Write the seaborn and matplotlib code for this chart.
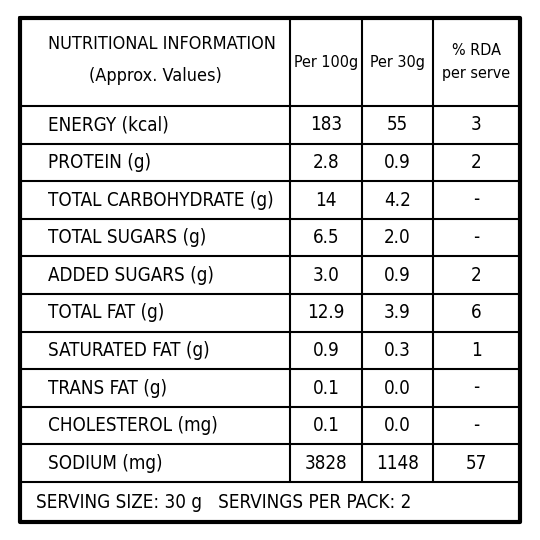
import matplotlib
matplotlib.use("Agg")
import matplotlib.pyplot as plt
import seaborn as sns

sns.set_theme(style="white")
plt.rcParams['font.family'] = ['DejaVu Sans']

nutrients = ["ENERGY (kcal)", "PROTEIN (g)", "TOTAL CARBOHYDRATE (g)", "TOTAL SUGARS (g)",
             "ADDED SUGARS (g)", "TOTAL FAT (g)", "SATURATED FAT (g)", "TRANS FAT (g)",
             "CHOLESTEROL (mg)", "SODIUM (mg)"]
per_100g = ["183", "2.8", "14", "6.5", "3.0", "12.9", "0.9", "0.1", "0.1", "3828"]
per_30g = ["55", "0.9", "4.2", "2.0", "0.9", "3.9", "0.3", "0.0", "0.0", "1148"]
rda = ["3", "2", "-", "-", "2", "6", "1", "-", "-", "57"]
headers = ["Per 100g", "Per 30g", "% RDA\nper serve"]
footer = "SERVING SIZE: 30 g   SERVINGS PER PACK: 2"

fig = plt.figure(figsize=(5.4, 5.4), dpi=100)
ax = fig.add_axes([0, 0, 1, 1])
ax.set_xlim(0, 540)
ax.set_ylim(540, 0)
ax.axis("off")

left, right, top, bottom = 20, 520, 18, 522
cols = [290, 362, 433]
head_bottom = 106
row_h = 37.6
table_bottom = head_bottom + row_h * len(nutrients)

ax.plot([left, right, right, left, left], [top, top, bottom, bottom, top], color="black", lw=3)
for i in range(len(nutrients) + 1):
    y = head_bottom + i * row_h
    ax.plot([left, right], [y, y], color="black", lw=1.5)
for x in cols:
    ax.plot([x, x], [top, table_bottom], color="black", lw=1.5)

txt = dict(color="black", fontstretch="condensed", fontweight="medium", va="center")
ax.text(48, 44, "NUTRITIONAL INFORMATION", ha="left", fontsize=13, **txt)
ax.text(155, 76, "(Approx. Values)", ha="center", fontsize=13, **txt)
centers = [(cols[0] + cols[1]) / 2, (cols[1] + cols[2]) / 2, (cols[2] + right) / 2]
for c, h in zip(centers, headers):
    ax.text(c, 62, h, ha="center", linespacing=1.6, fontsize=11.5, **txt)

for i, name in enumerate(nutrients):
    y = head_bottom + (i + 0.5) * row_h
    ax.text(48, y, name, ha="left", fontsize=13.5, **txt)
    for c, v in zip(centers, [per_100g[i], per_30g[i], rda[i]]):
        ax.text(c, y, v, ha="center", fontsize=13.5, **txt)

ax.text(36, (table_bottom + bottom) / 2, footer, ha="left", fontsize=13.5, **txt)

fig.savefig("out.png", dpi=100, facecolor="white")
